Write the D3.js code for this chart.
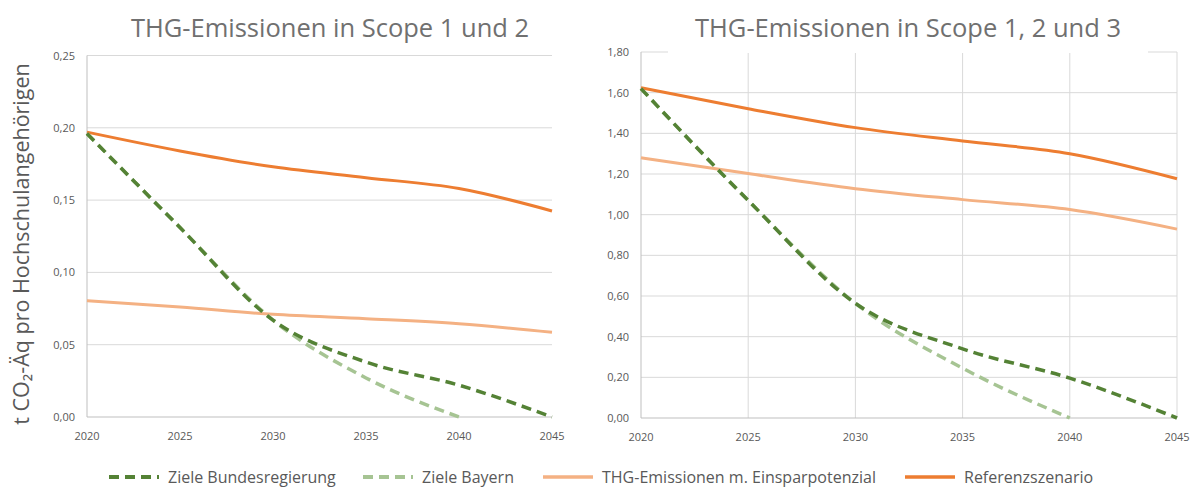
<!DOCTYPE html>
<html>
<head>
<meta charset="utf-8">
<script src="https://cdn.jsdelivr.net/npm/d3@7"></script>
<style>
  body { margin: 0; background: #fff; }
  svg { display: block; font-family: "Open Sans", "Noto Sans", sans-serif; }
</style>
</head>
<body>
<svg id="chart" width="1198" height="487"></svg>
<script>
// years on the x axis
var years = [2020, 2025, 2030, 2035, 2040, 2045];

// Scope 1 und 2 (t CO2-Aeq pro Hochschulangehoerigen)
var s12Bund = [0.196, 0.131, 0.067, 0.038, 0.022, 0.0];
var s12Bayern = [0.196, 0.131, 0.067, 0.027, 0.0, null];
var s12Einspar = [0.0805, 0.076, 0.071, 0.068, 0.0645, 0.0586];
var s12Referenz = [0.197, 0.184, 0.173, 0.1655, 0.158, 0.1425];
var s12Ticks = [0, 0.05, 0.10, 0.15, 0.20, 0.25];

// Scope 1, 2 und 3
var s123Bund = [1.62, 1.07, 0.564, 0.34, 0.196, 0.0];
var s123Bayern = [1.62, 1.07, 0.564, 0.245, 0.0, null];
var s123Einspar = [1.28, 1.202, 1.128, 1.074, 1.025, 0.929];
var s123Referenz = [1.624, 1.521, 1.428, 1.362, 1.300, 1.177];
var s123Ticks = [0, 0.2, 0.4, 0.6, 0.8, 1.0, 1.2, 1.4, 1.6, 1.8];

var seriesNames = ['Ziele Bundesregierung', 'Ziele Bayern', 'THG-Emissionen m. Einsparpotenzial', 'Referenzszenario'];
var seriesColors = ['#548235', '#a6c493', '#f4b183', '#ed7d31'];
var seriesDash = ['10,6', '10,6', null, null];

var svg = d3.select('#chart');
var fmt = function (v) { return d3.format('.2f')(v).replace('.', ','); };

function drawPanel(opt) {
    var x = d3.scaleLinear().domain([2020, 2045]).range([opt.left, opt.right]);
    var y = d3.scaleLinear().domain([0, opt.max]).range([opt.bottom, opt.top]);
    var g = svg.append('g');

    // horizontal grid
    g.append('g').selectAll('line')
        .data(opt.ticks.slice(1))
        .enter().append('line')
        .attr('x1', opt.left).attr('x2', opt.right)
        .attr('y1', function (d) { return y(d); })
        .attr('y2', function (d) { return y(d); })
        .attr('stroke', '#d9d9d9').attr('stroke-width', 1);

    // vertical grid (right panel only)
    if (opt.vgrid) {
        g.append('g').selectAll('line')
            .data(years.slice(1))
            .enter().append('line')
            .attr('x1', function (d) { return x(d); })
            .attr('x2', function (d) { return x(d); })
            .attr('y1', opt.top).attr('y2', opt.bottom)
            .attr('stroke', '#d9d9d9').attr('stroke-width', 1);
    }

    // title (white box covers the top grid line like in the original)
    var title = g.append('text')
        .attr('x', opt.titleX).attr('y', 37)
        .attr('text-anchor', 'middle')
        .attr('font-size', opt.titleSize)
        .attr('fill', '#707070')
        .text(opt.title);
    if (opt.titleBox) {
        var bb = title.node().getBBox();
        g.insert('rect', 'text')
            .attr('x', bb.x - 27).attr('y', 0)
            .attr('width', bb.width + 54).attr('height', opt.top + 1)
            .attr('fill', '#fff');
    }

    // axes lines
    g.append('line')
        .attr('x1', opt.left).attr('x2', opt.left)
        .attr('y1', opt.top).attr('y2', opt.bottom)
        .attr('stroke', '#bfbfbf');
    g.append('line')
        .attr('x1', opt.left).attr('x2', opt.right)
        .attr('y1', opt.bottom).attr('y2', opt.bottom)
        .attr('stroke', '#bfbfbf');

    // tick labels
    g.append('g').selectAll('text')
        .data(opt.ticks)
        .enter().append('text')
        .attr('x', opt.left - 12)
        .attr('y', function (d) { return y(d) + 4; })
        .attr('text-anchor', 'end')
        .attr('font-size', 11)
        .attr('fill', '#595959')
        .text(fmt);
    g.append('g').selectAll('text')
        .data(years)
        .enter().append('text')
        .attr('x', function (d) { return x(d); })
        .attr('y', opt.bottom + 23)
        .attr('text-anchor', 'middle')
        .attr('font-size', 11)
        .attr('fill', '#595959')
        .text(function (d) { return d; });

    var line = d3.line()
        .defined(function (d) { return d.v !== null; })
        .x(function (d) { return x(d.year); })
        .y(function (d) { return y(d.v); })
        .curve(d3.curveMonotoneX);

    // draw back to front: Einspar, Referenz, Bayern, Bund
    [2, 3, 1, 0].forEach(function (i) {
        var vals = opt.series[i].map(function (v, k) { return { year: years[k], v: v }; });
        g.append('path')
            .datum(vals)
            .attr('d', line)
            .attr('fill', 'none')
            .attr('stroke', seriesColors[i])
            .attr('stroke-width', i < 2 ? 3.5 : 3)
            .attr('stroke-dasharray', seriesDash[i]);
    });
}

drawPanel({
    left: 87, right: 552, top: 55.5, bottom: 417, max: 0.25,
    ticks: s12Ticks,
    series: [s12Bund, s12Bayern, s12Einspar, s12Referenz],
    title: 'THG-Emissionen in Scope 1 und 2', titleX: 330, titleSize: 25.5,
    vgrid: false, titleBox: false
});

drawPanel({
    left: 641, right: 1177, top: 52, bottom: 418, max: 1.8,
    ticks: s123Ticks,
    series: [s123Bund, s123Bayern, s123Einspar, s123Referenz],
    title: 'THG-Emissionen in Scope 1, 2 und 3', titleX: 908, titleSize: 25.5,
    vgrid: true, titleBox: true
});

// y axis title
svg.append('text')
    .attr('transform', 'translate(29,244) rotate(-90)')
    .attr('text-anchor', 'middle')
    .attr('font-size', 21.5)
    .attr('fill', '#595959')
    .text('t CO\u2082-Äq pro Hochschulangehörigen');

// legend
var legendX = [109, 363, 543, 905];
var leg = svg.append('g').attr('transform', 'translate(0,477)');
seriesNames.forEach(function (name, i) {
    leg.append('line')
        .attr('x1', legendX[i]).attr('x2', legendX[i] + 50)
        .attr('y1', 0).attr('y2', 0)
        .attr('stroke', seriesColors[i])
        .attr('stroke-width', i < 2 ? 4 : 3.5)
        .attr('stroke-dasharray', seriesDash[i]);
    leg.append('text')
        .attr('x', legendX[i] + 59)
        .attr('y', 5.5)
        .attr('font-size', 16)
        .attr('fill', '#595959')
        .text(name);
});
</script>
</body>
</html>
